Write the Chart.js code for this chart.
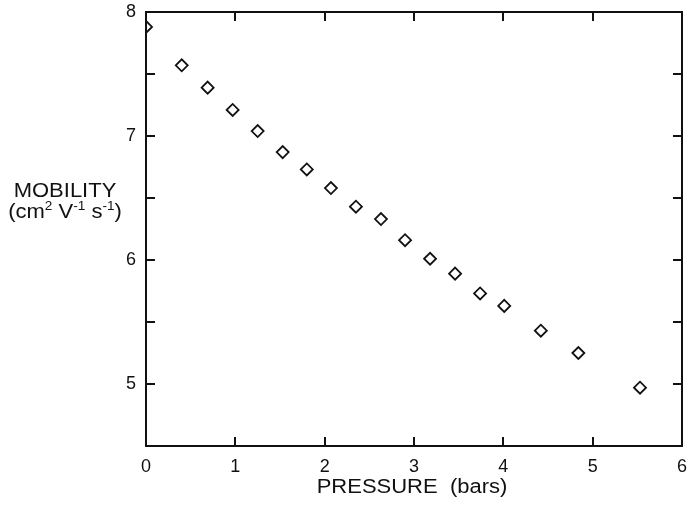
<!DOCTYPE html>
<html>
<head>
<meta charset="utf-8">
<script src="https://cdn.jsdelivr.net/npm/chart.js@4.4.1/dist/chart.umd.min.js"></script>
<style>
  html, body { margin: 0; padding: 0; background: #fff; }
  #wrap { width: 690px; height: 525px; }
</style>
</head>
<body>
<div id="wrap"><canvas id="chart"></canvas></div>
<script>
// pressure (bars) and mobility (cm2 V-1 s-1)
var pressure = [0, 0.40, 0.69, 0.97, 1.25, 1.53, 1.80, 2.07, 2.35, 2.63, 2.90, 3.18, 3.46, 3.74, 4.01, 4.42, 4.84, 5.53];
var mobility = [7.88, 7.57, 7.39, 7.21, 7.04, 6.87, 6.73, 6.58, 6.43, 6.33, 6.16, 6.01, 5.89, 5.73, 5.63, 5.43, 5.25, 4.97];
var xTicks = [0, 1, 2, 3, 4, 5, 6];
var yLabels = [5, 6, 7, 8];

var FONT = '"Liberation Sans", Arial, sans-serif';

var points = pressure.map(function (p, i) { return { x: p, y: mobility[i] }; });

// box, inward ticks and axis titles
var framePlugin = {
    id: 'frame',
    afterDraw: function (chart) {
        var ctx = chart.ctx;
        var a = chart.chartArea;
        var xs = chart.scales.x, ys = chart.scales.y;
        var len = 9;
        ctx.save();
        ctx.strokeStyle = '#111';
        ctx.lineWidth = 2;
        ctx.strokeRect(a.left, a.top, a.right - a.left, a.bottom - a.top);
        ctx.beginPath();
        xs.ticks.forEach(function (t) {
            if (t.value <= xs.min || t.value >= xs.max) return;
            var px = Math.round(xs.getPixelForValue(t.value));
            ctx.moveTo(px, a.bottom); ctx.lineTo(px, a.bottom - len);
            ctx.moveTo(px, a.top); ctx.lineTo(px, a.top + len);
        });
        ys.ticks.forEach(function (t) {
            if (t.value <= ys.min || t.value >= ys.max) return;
            var py = Math.round(ys.getPixelForValue(t.value));
            ctx.moveTo(a.left, py); ctx.lineTo(a.left + len, py);
            ctx.moveTo(a.right, py); ctx.lineTo(a.right - len, py);
        });
        ctx.stroke();

        ctx.fillStyle = '#111';
        ctx.textBaseline = 'alphabetic';
        // x title
        drawStretched(ctx, [['PRESSURE  (bars)', 0]], 412, 493, 20);
        // y title
        drawStretched(ctx, [['MOBILITY', 0]], 65, 197, 20);
        drawStretched(ctx, [['(cm', 0], ['2', 1], [' V', 0], ['-1', 1], [' s', 0], ['-1', 1], [')', 0]], 65, 218, 20);
        ctx.restore();
    }
};

// pieces: [text, isSuperscript], centred on cx, slightly widened like the original lettering
function drawStretched(ctx, pieces, cx, baseline, size) {
    var sx = 1.1;
    var total = 0;
    pieces.forEach(function (p) {
        ctx.font = (p[1] ? size * 0.62 : size) + 'px ' + FONT;
        total += ctx.measureText(p[0]).width;
    });
    ctx.save();
    ctx.translate(cx - total * sx / 2, baseline);
    ctx.scale(sx, 1);
    var x = 0;
    pieces.forEach(function (p) {
        ctx.font = (p[1] ? size * 0.62 : size) + 'px ' + FONT;
        ctx.textAlign = 'left';
        ctx.fillText(p[0], x, p[1] ? -size * 0.38 : 0);
        x += ctx.measureText(p[0]).width;
    });
    ctx.restore();
}

new Chart(document.getElementById('chart'), {
    type: 'scatter',
    data: {
        datasets: [{
            data: points,
            pointStyle: 'rectRot',
            pointRadius: 6,
            pointHoverRadius: 6,
            pointBorderWidth: 1.8,
            pointBorderColor: '#111',
            pointBackgroundColor: '#fff'
        }]
    },
    options: {
        responsive: true,
        maintainAspectRatio: false,
        animation: false,
        events: [],
        layout: { padding: { left: 0, top: 12, right: 8, bottom: 0 } },
        plugins: { legend: { display: false }, tooltip: { enabled: false } },
        scales: {
            x: {
                type: 'linear',
                min: xTicks[0],
                max: xTicks[xTicks.length - 1],
                afterFit: function (s) { s.height = 79; s.paddingLeft = 0; s.paddingRight = 0; },
                grid: { display: false, drawTicks: false },
                border: { display: false },
                ticks: {
                    stepSize: 1,
                    padding: 10,
                    color: '#111',
                    font: { family: FONT, size: 18 },
                    callback: function (v) { return xTicks.indexOf(v) >= 0 ? String(v) : ''; }
                }
            },
            y: {
                type: 'linear',
                min: 4.5,
                max: 8,
                afterFit: function (s) { s.width = 146; s.paddingTop = 0; s.paddingBottom = 0; },
                grid: { display: false, drawTicks: false },
                border: { display: false },
                ticks: {
                    stepSize: 0.5,
                    padding: 10,
                    color: '#111',
                    font: { family: FONT, size: 18 },
                    callback: function (v) { return yLabels.indexOf(v) >= 0 ? String(v) : ''; }
                }
            }
        }
    },
    plugins: [framePlugin]
});
</script>
</body>
</html>
